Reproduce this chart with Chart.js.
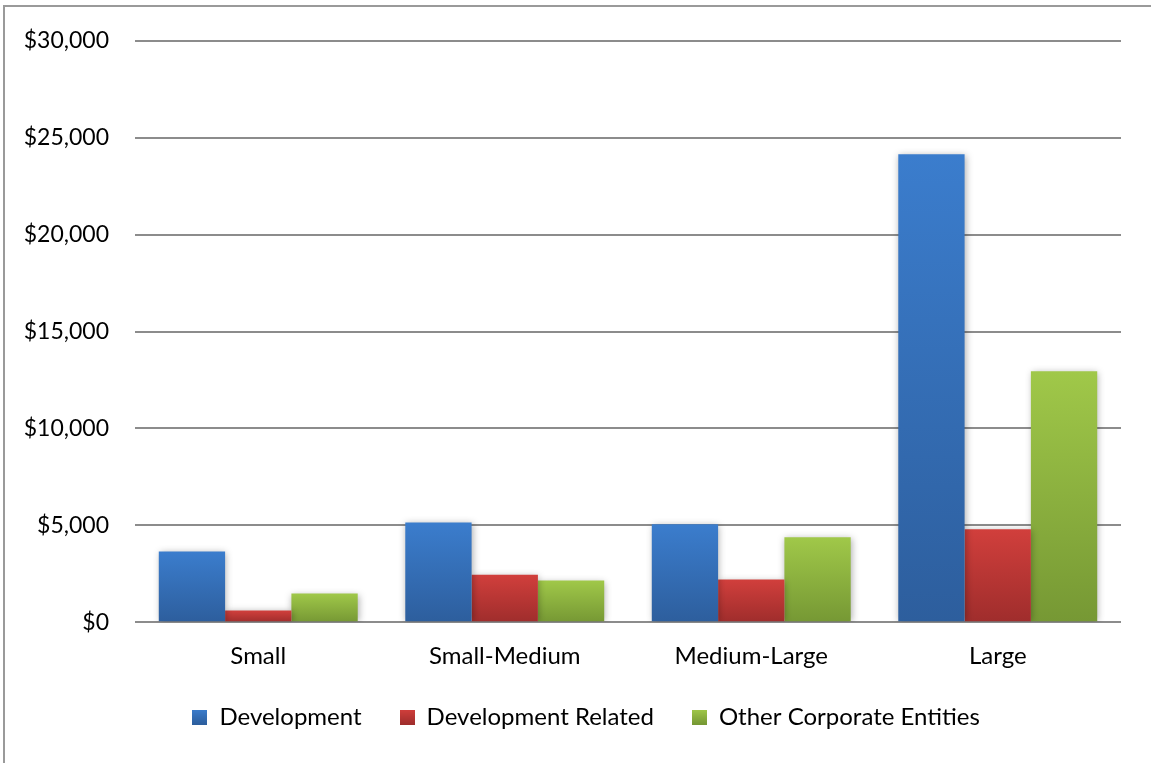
<!DOCTYPE html>
<html>
<head>
<meta charset="utf-8">
<script src="https://cdn.jsdelivr.net/npm/chart.js@4/dist/chart.umd.min.js"></script>
<style>
  html, body { margin: 0; padding: 0; background: #ffffff; }
  #wrap { position: relative; width: 1151px; height: 763px; }
</style>
</head>
<body>
<div id="wrap"><canvas id="chart" width="1151" height="763"></canvas></div>
<script>
// Spending by entity size
const categories = ['Small', 'Small-Medium', 'Medium-Large', 'Large'];
const seriesNames = ['Development', 'Development Related', 'Other Corporate Entities'];
const development = [3650, 5150, 5050, 24150];
const developmentRelated = [600, 2450, 2200, 4800];
const otherCorporate = [1480, 2150, 4380, 12950];
const yTicks = [0, 5000, 10000, 15000, 20000, 25000, 30000];

// Top / bottom shades for each series gradient
const shades = [
  ['#3b7dcd', '#2d5e9d'],
  ['#d13f3c', '#9f2d2c'],
  ['#a0c849', '#769834']
];

const FONT = 'Lato, "Open Sans", sans-serif';

function barGradient(ctx) {
  const chart = ctx.chart;
  const pair = shades[ctx.datasetIndex];
  const y = chart.scales && chart.scales.y;
  if (!y || ctx.raw === undefined || ctx.type !== 'data') return pair[0];
  const top = y.getPixelForValue(ctx.raw);
  const base = y.getPixelForValue(0);
  if (!isFinite(top) || !isFinite(base) || top === base) return pair[0];
  const g = chart.ctx.createLinearGradient(0, top, 0, base);
  g.addColorStop(0, pair[0]);
  g.addColorStop(1, pair[1]);
  return g;
}

function swatch(pair) {
  const c = document.createElement('canvas');
  c.width = 15; c.height = 15;
  const x = c.getContext('2d');
  const g = x.createLinearGradient(0, 0, 0, 15);
  g.addColorStop(0, pair[0]);
  g.addColorStop(1, pair[1]);
  x.fillStyle = g;
  x.fillRect(0, 0, 15, 15);
  return c;
}

// Soft drop shadow under the bars
const barShadow = {
  id: 'barShadow',
  beforeDatasetDraw(chart) {
    const c = chart.ctx;
    c.save();
    c.shadowColor = 'rgba(0,0,0,0.32)';
    c.shadowBlur = 7;
    c.shadowOffsetX = 1;
    c.shadowOffsetY = 1;
  },
  afterDatasetDraw(chart) {
    chart.ctx.restore();
  }
};

// Nudge the legend row toward the plot's centre and closer to the axis labels
const legendPlacement = {
  id: 'legendPlacement',
  afterLayout(chart) {
    const lg = chart.legend;
    if (!lg) return;
    const plotMid = (chart.chartArea.left + chart.chartArea.right) / 2;
    const dx = (plotMid - (lg.left + lg.right) / 2) * 0.38;
    const dy = -24;
    lg.left += dx;
    lg.right += dx;
    lg.top += dy;
    lg.bottom += dy;
  }
};

// Frame lines along the left and top edges
const frame = {
  id: 'frame',
  afterDraw(chart) {
    const c = chart.ctx;
    c.save();
    c.strokeStyle = '#9a9a9a';
    c.lineWidth = 2;
    c.beginPath();
    c.moveTo(4, chart.height);
    c.lineTo(4, 6);
    c.lineTo(chart.width, 6);
    c.stroke();
    c.restore();
  }
};

const values = [development, developmentRelated, otherCorporate];

new Chart(document.getElementById('chart'), {
  type: 'bar',
  data: {
    labels: categories,
    datasets: seriesNames.map((name, i) => ({
      label: name,
      data: values[i],
      backgroundColor: barGradient,
      borderWidth: 0,
      pointStyle: swatch(shades[i]),
      categoryPercentage: 0.807,
      barPercentage: 1.0
    }))
  },
  options: {
    responsive: false,
    animation: false,
    devicePixelRatio: 1,
    layout: { padding: { left: 0, right: 30, top: 41, bottom: 0 } },
    plugins: {
      tooltip: { enabled: false },
      legend: {
        position: 'bottom',
        labels: {
          usePointStyle: true,
          boxWidth: 15,
          boxHeight: 15,
          padding: 38,
          color: '#000000',
          font: { family: FONT, size: 24 }
        }
      }
    },
    scales: {
      x: {
        grid: { display: false, drawTicks: false },
        border: { display: false },
        ticks: {
          color: '#000000',
          padding: 20,
          font: { family: FONT, size: 24 }
        }
      },
      y: {
        min: 0,
        max: 30000,
        afterFit(scale) { scale.width = 135; },
        afterBuildTicks(scale) { scale.ticks = yTicks.map(v => ({ value: v })); },
        grid: { color: '#8c8c8c', lineWidth: 2, drawTicks: false },
        border: { display: false },
        ticks: {
          color: '#000000',
          padding: 26,
          font: { family: FONT, size: 23 },
          callback: v => '$' + Number(v).toLocaleString('en-US')
        }
      }
    }
  },
  plugins: [barShadow, legendPlacement, frame]
});
</script>
</body>
</html>
